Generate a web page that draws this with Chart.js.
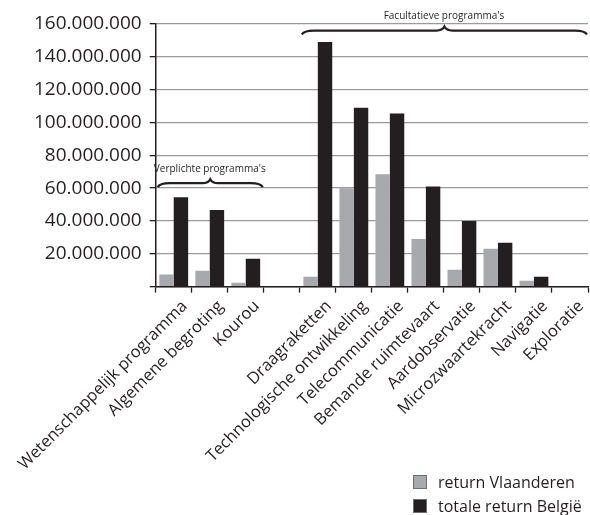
<!DOCTYPE html>
<html>
<head>
<meta charset="utf-8">
<script src="https://cdn.jsdelivr.net/npm/chart.js@4/dist/chart.umd.min.js"></script>
<style>
  html, body { margin: 0; padding: 0; background: #fff; }
  #wrap { position: relative; width: 590px; height: 515px; }
  #legend { position: absolute; left: 413px; top: 471px; font-family: "Open Sans", sans-serif; font-size: 16px; color: #231f20; }
  #legend div { height: 24px; line-height: 22px; white-space: nowrap; }
  #legend span.box { display: inline-block; width: 12px; height: 12px; border: 1px solid #6d6e71; margin-right: 11px; vertical-align: -1px; }
</style>
</head>
<body>
<div id="wrap">
  <canvas id="chart" width="590" height="515"></canvas>
  <div id="legend"></div>
</div>
<script>
const categories = [
  'Wetenschappelijk programma', 'Algemene begroting', 'Kourou', '',
  'Draagraketten', 'Technologische ontwikkeling', 'Telecommunicatie',
  'Bemande ruimtevaart', 'Aardobservatie', 'Microzwaartekracht',
  'Navigatie', 'Exploratie'
];
const returnVlaanderen = [7300000, 9700000, 2400000, null, 6000000, 60000000, 68500000, 29000000, 10300000, 23000000, 3600000, 0];
const returnBelgie = [54500000, 46700000, 17000000, null, 149000000, 109000000, 105500000, 61000000, 40000000, 26700000, 6000000, 0];
const seriesNames = ['return Vlaanderen', 'totale return België'];
const seriesColors = ['#a7a9ac', '#231f20'];

// groups marked with a brace above the bars
const groupLabels = ["Verplichte programma's", "Facultatieve programma's"];
const groupFrom = [0, 4];
const groupTo = [2, 11];
const groupLevel = [63000000, 156000000];

const yMax = 160000000;
const yStep = 20000000;

const fmt = (v) => String(v).replace(/\B(?=(\d{3})+(?!\d))/g, '.');

const drawBrace = (ctx, x0, x1, y) => {
  const xm = (x0 + x1) / 2;
  ctx.beginPath();
  ctx.moveTo(x0, y + 4);
  ctx.quadraticCurveTo(x0 + 2, y, x0 + 12, y);
  ctx.lineTo(xm - 8, y);
  ctx.quadraticCurveTo(xm - 2, y, xm, y - 4);
  ctx.quadraticCurveTo(xm + 2, y, xm + 8, y);
  ctx.lineTo(x1 - 12, y);
  ctx.quadraticCurveTo(x1 - 2, y, x1, y + 4);
  ctx.stroke();
};

const bracePlugin = {
  id: 'braces',
  afterDatasetsDraw(chart) {
    const ctx = chart.ctx;
    const x = chart.scales.x;
    const y = chart.scales.y;
    const half = (x.getPixelForValue(1) - x.getPixelForValue(0)) / 2;
    ctx.save();
    ctx.strokeStyle = '#231f20';
    ctx.lineWidth = 2.2;
    ctx.fillStyle = '#231f20';
    ctx.font = '10px "Open Sans", sans-serif';
    ctx.textAlign = 'center';
    ctx.textBaseline = 'bottom';
    groupLabels.forEach((label, i) => {
      const x0 = x.getPixelForValue(groupFrom[i]) - half;
      const x1 = x.getPixelForValue(groupTo[i]) + half;
      const py = y.getPixelForValue(groupLevel[i]);
      drawBrace(ctx, x0 + 2, x1 - 1, py);
      ctx.fillText(label, (x0 + x1) / 2, py - 9);
    });
    ctx.restore();
  }
};

const chart = new Chart(document.getElementById('chart'), {
  type: 'bar',
  data: {
    labels: categories,
    datasets: [
      { label: seriesNames[0], data: returnVlaanderen, backgroundColor: seriesColors[0] },
      { label: seriesNames[1], data: returnBelgie, backgroundColor: seriesColors[1] },
    ],
  },
  options: {
    responsive: false,
    animation: false,
    layout: { padding: { top: 24, left: 22, right: 2, bottom: 37 } },
    datasets: { bar: { categoryPercentage: 0.8, barPercentage: 1.0 } },
    plugins: {
      legend: { display: false },
      tooltip: { enabled: false },
    },
    scales: {
      x: {
        offset: true,
        grid: { display: true, drawOnChartArea: false, tickLength: 6, tickColor: '#231f20', tickWidth: 1.3 },
        border: { color: '#231f20', width: 1.5 },
        ticks: {
          autoSkip: false,
          minRotation: 45,
          maxRotation: 45,
          color: '#231f20',
          padding: 4,
          labelOffset: 11,
          font: { family: 'Open Sans', size: 16.5 },
        },
      },
      y: {
        min: 0,
        max: yMax,
        ticks: {
          stepSize: yStep,
          color: '#231f20',
          padding: 8,
          font: { family: 'Open Sans', size: 19 },
          callback: (v) => (v === 0 ? '' : fmt(v)),
        },
        grid: { color: '#9b9b9b', lineWidth: 1.3, tickLength: 6, tickColor: '#231f20' },
        border: { color: '#231f20', width: 1.5 },
      },
    },
  },
  plugins: [bracePlugin],
});

const legend = document.getElementById('legend');
chart.data.datasets.forEach((ds) => {
  const row = document.createElement('div');
  row.innerHTML = '<span class="box" style="background:' + ds.backgroundColor + '"></span>' + ds.label;
  legend.appendChild(row);
});
</script>
</body>
</html>
